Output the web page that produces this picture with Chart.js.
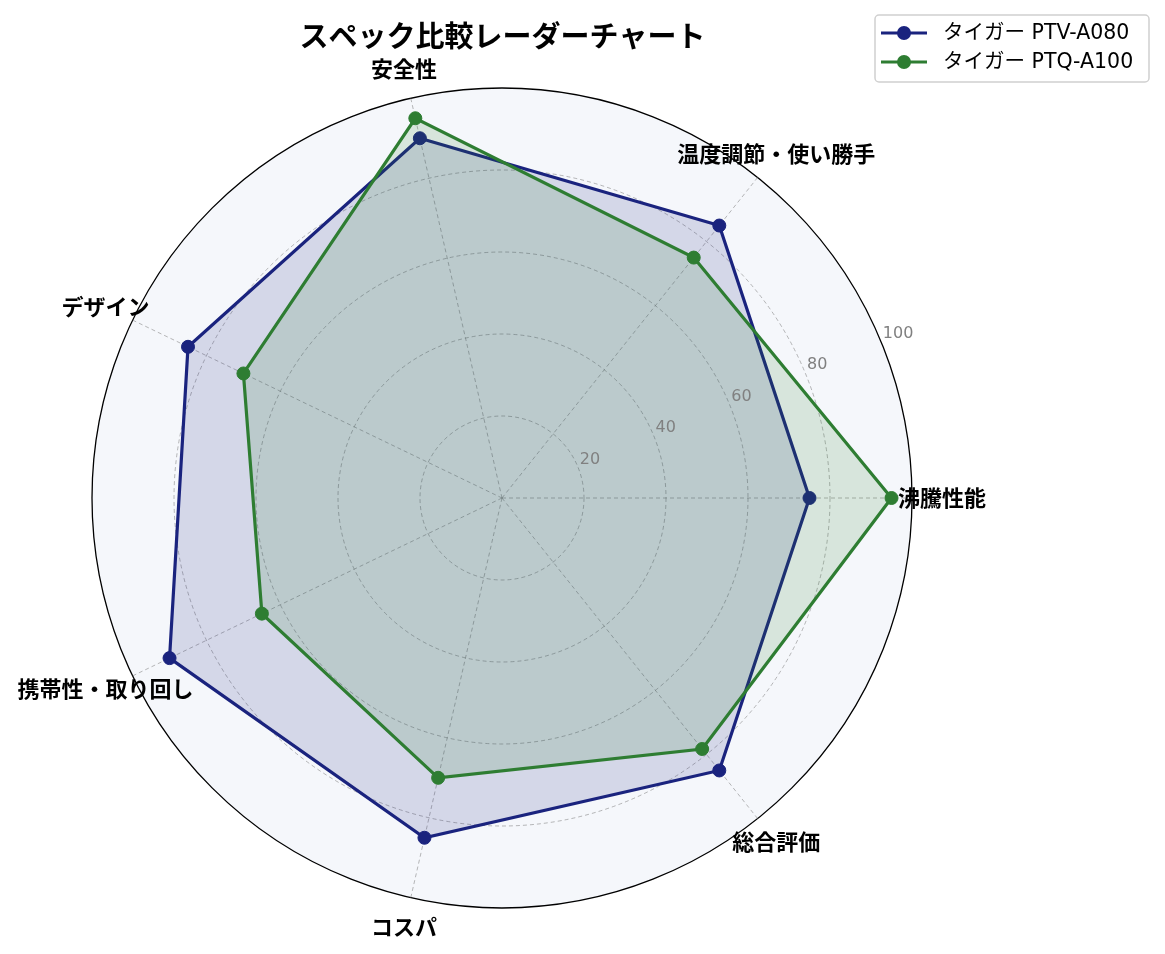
<!DOCTYPE html>
<html lang="ja">
<head>
<meta charset="utf-8">
<title>スペック比較レーダーチャート</title>
<script src="https://cdn.jsdelivr.net/npm/chart.js@4.4.1/dist/chart.umd.min.js"></script>
<style>
    html, body { margin: 0; padding: 0; background: #fff; }
    canvas { display: block; }
</style>
</head>
<body>
<canvas id="radarChart" width="1165" height="954"></canvas>
<script>
var categories = ['沸騰性能', '温度調節・使い勝手', '安全性', 'デザイン', '携帯性・取り回し', 'コスパ', '総合評価'];
var seriesNames = ['タイガー PTV-A080', 'タイガー PTQ-A100'];
var valuesA080 = [75, 85, 90, 85, 90, 85, 85];
var valuesA100 = [95, 75, 95, 70, 65, 70, 78.3];
var tickValues = [20, 40, 60, 80, 100];

var navy = '#1a237e';
var green = '#2e7d32';
var fontFamily = "'Noto Sans CJK JP', 'Noto Sans', sans-serif";
var latinFamily = "'DejaVu Sans', 'Noto Sans CJK JP', sans-serif";

// the reference goes counter-clockwise from the right, Chart.js goes clockwise
function ccw(arr) {
    return [arr[0]].concat(arr.slice(1).reverse());
}

var polarExtras = {
    id: 'polarExtras',
    beforeDraw: function (chart) {
        var r = chart.scales.r;
        var ctx = chart.ctx;
        ctx.save();
        ctx.beginPath();
        ctx.arc(r.xCenter, r.yCenter, r.drawingArea, 0, Math.PI * 2);
        ctx.fillStyle = '#f5f7fb';
        ctx.fill();
        ctx.restore();
    },
    afterDraw: function (chart) {
        var r = chart.scales.r;
        var ctx = chart.ctx;
        ctx.save();

        // category labels
        ctx.font = 'bold 22px ' + fontFamily;
        ctx.fillStyle = '#000';
        ctx.textAlign = 'center';
        ctx.textBaseline = 'middle';
        chart.data.labels.forEach(function (label, i) {
            var p = r.getPointPosition(i, r.drawingArea + 30);
            ctx.fillText(label, p.x, p.y);
        });

        // radial tick labels at 22.5 degrees
        var a = 22.5 * Math.PI / 180;
        ctx.font = '16px ' + latinFamily;
        ctx.fillStyle = '#808080';
        ctx.textAlign = 'left';
        ctx.textBaseline = 'alphabetic';
        tickValues.forEach(function (v) {
            var d = r.getDistanceFromCenterForValue(v);
            ctx.fillText(String(v), r.xCenter + d * Math.cos(a) + 2, r.yCenter - d * Math.sin(a) - 3);
        });

        // legend box
        var bx = 875, by = 15, bw = 274, bh = 67;
        ctx.beginPath();
        ctx.roundRect(bx, by, bw, bh, 4);
        ctx.fillStyle = 'rgba(255,255,255,0.8)';
        ctx.fill();
        ctx.strokeStyle = '#d0d0d0';
        ctx.lineWidth = 1.5;
        ctx.stroke();

        ctx.font = '20.5px ' + latinFamily;
        ctx.textBaseline = 'middle';
        chart.data.datasets.forEach(function (ds, i) {
            var y = 33 + i * 29;
            ctx.strokeStyle = ds.borderColor;
            ctx.lineWidth = 3.2;
            ctx.beginPath();
            ctx.moveTo(881, y);
            ctx.lineTo(927, y);
            ctx.stroke();
            ctx.beginPath();
            ctx.arc(904, y, 7, 0, Math.PI * 2);
            ctx.fillStyle = ds.borderColor;
            ctx.fill();
            ctx.fillStyle = '#000';
            ctx.fillText(ds.label, 943, y + 1);
        });
        ctx.restore();
    }
};

var radar = new Chart(document.getElementById('radarChart'), {
    type: 'radar',
    data: {
        labels: ccw(categories),
        datasets: [{
            label: seriesNames[0],
            data: ccw(valuesA080),
            borderColor: navy,
            backgroundColor: 'rgba(26, 35, 126, 0.15)',
            pointBackgroundColor: navy,
            pointBorderColor: navy,
            pointRadius: 6.5,
            pointBorderWidth: 1,
            borderWidth: 3.2,
            fill: true,
            order: 1
        }, {
            label: seriesNames[1],
            data: ccw(valuesA100),
            borderColor: green,
            backgroundColor: 'rgba(46, 125, 50, 0.15)',
            pointBackgroundColor: green,
            pointBorderColor: green,
            pointRadius: 6.5,
            pointBorderWidth: 1,
            borderWidth: 3.2,
            fill: true,
            order: 0
        }]
    },
    options: {
        responsive: false,
        animation: false,
        devicePixelRatio: 1,
        layout: {
            padding: { left: 92, right: 252, top: 0, bottom: 45 }
        },
        elements: {
            line: { tension: 0 }
        },
        scales: {
            r: {
                min: 0,
                max: 100,
                startAngle: 90,
                ticks: { display: false, stepSize: 20 },
                pointLabels: { display: false },
                grid: {
                    circular: true,
                    color: function (c) { return c.tick && c.tick.value === 100 ? '#000' : 'rgba(128,128,128,0.7)'; },
                    lineWidth: function (c) { return c.tick && c.tick.value === 100 ? 1.3 : 0.8; }
                },
                border: {
                    dash: function (c) { return c.tick && c.tick.value === 100 ? [] : [4, 3]; }
                },
                angleLines: {
                    color: 'rgba(128,128,128,0.7)',
                    lineWidth: 0.8,
                    borderDash: [4, 3]
                }
            }
        },
        plugins: {
            legend: { display: false },
            tooltip: { enabled: false },
            title: {
                display: true,
                text: 'スペック比較レーダーチャート',
                color: '#000',
                font: { family: fontFamily, size: 29, weight: 'bold', lineHeight: 1.2 },
                padding: { top: 18.6, bottom: 34.6 }
            }
        }
    },
    plugins: [polarExtras]
});
</script>
</body>
</html>
